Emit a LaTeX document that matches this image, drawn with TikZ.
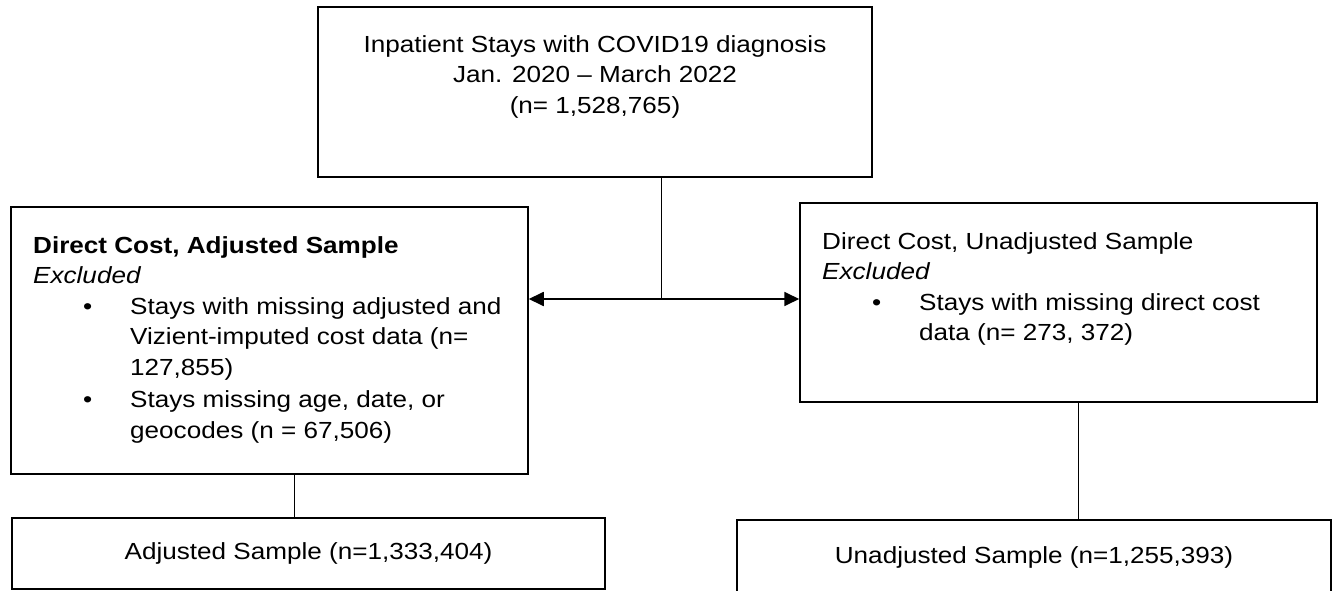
\documentclass[tikz,border=0pt]{standalone}
\usepackage{fontspec}
\setmainfont[FakeStretch=1.12]{Liberation Sans}
\usepackage{tikz}
\usetikzlibrary{
    arrows.meta,
    calc,
    positioning
}

\newcommand{\bulletrow}{\hspace*{50pt}\makebox[47pt][l]{\textbullet}}
\newcommand{\hangrow}{\hspace*{97pt}}

\tikzset{
    box/.style={draw, line width=1.5pt, inner sep=0pt},
    words/.style={inner sep=0pt},
    link/.style={line width=1pt},
    split arrow/.style={line width=1.8pt, {Triangle[length=15pt,width=14pt]}-{Triangle[length=15pt,width=14pt]}}
}

\begin{document}
\begin{tikzpicture}[x=1pt, y=-1pt, font=\fontsize{23.3pt}{30.5pt}\selectfont]
                    \useasboundingbox (0,0) rectangle (1336,591);

                    % boxes
                    \node[box, minimum width=554pt, minimum height=170pt] (top) at (595, 92) {};
                    \node[box, minimum width=517pt, minimum height=267pt] (adjexcl) at (269.5, 340.5) {};
                    \node[box, minimum width=517pt, minimum height=199pt] (unadjexcl) at (1058.5, 302.5) {};
                    \node[box, minimum width=593pt, minimum height=71pt] (adj) at (308.5, 553.5) {Adjusted Sample (n=1,333,404)};
                    \node[box, minimum width=594pt, minimum height=74pt] (unadj) at (1034, 557) {Unadjusted Sample (n=1,255,393)};

                    % box texts
                    \node[words, anchor=north, align=center] (toptxt) at (595, 35)
                        {Inpatient Stays with COVID19 diagnosis\\ Jan. 2020 -- March 2022\\ (n= 1,528,765)};
                    \node[words, anchor=north west, align=left] (adjtxt) at (33, 236)
                        {\textbf{Direct Cost, Adjusted Sample}\\
                         \textit{Excluded}\\
                         \bulletrow Stays with missing adjusted and\\
                         \hangrow Vizient-imputed cost data (n=\\
                         \hangrow 127,855)\\[2pt]
                         \bulletrow Stays missing age, date, or\\
                         \hangrow geocodes (n = 67,506)};
                    \node[words, anchor=north west, align=left] (unadjtxt) at (822, 232)
                        {Direct Cost, Unadjusted Sample\\
                         \textit{Excluded}\\
                         \bulletrow Stays with missing direct cost\\
                         \hangrow data (n= 273, 372)};

                    \coordinate (split) at (661, 299);

                    \draw[link]
                    (top.south -| split) edge (split)
                    (adjexcl.south -| 294,0) edge (adj.north -| 294,0)
                    (unadjexcl.south -| 1078,0) edge (unadj.north -| 1078,0);
                    \draw[split arrow] (adjexcl.east |- split) -- (unadjexcl.west |- split);
                \end{tikzpicture}
\end{document}
